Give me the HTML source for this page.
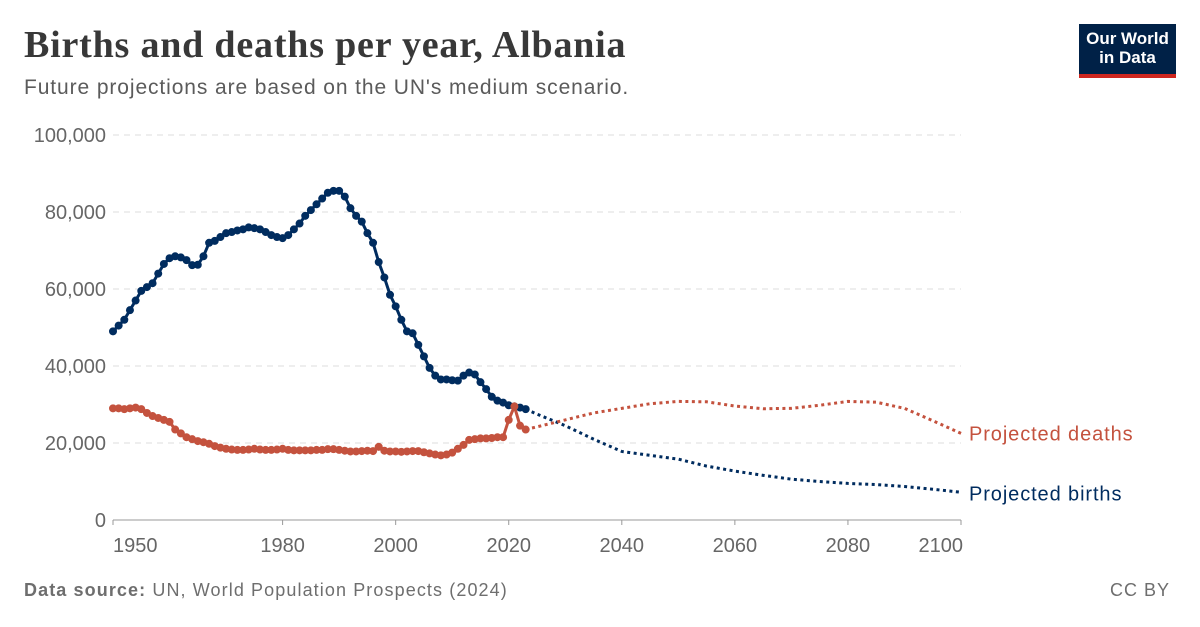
<!DOCTYPE html>
<html><head><meta charset="utf-8"><style>
body{margin:0;background:#fff;font-family:"Liberation Sans",sans-serif}
#w{position:relative;width:1200px;height:627px;overflow:hidden}
.t{position:absolute;white-space:nowrap}
</style></head><body><div id="w">
<div class="t" style="left:24px;top:23px;font-family:'Liberation Serif',serif;font-weight:bold;font-size:38px;letter-spacing:0.8px;color:#383838">Births and deaths per year, Albania</div>
<div class="t" style="left:24px;top:76px;font-size:21px;letter-spacing:0.9px;color:#5b5b5b">Future projections are based on the UN's medium scenario.</div>
<div style="position:absolute;left:1079px;top:24px;width:97px;height:54px;background:#002147;border-bottom:4px solid #ce261e;box-sizing:border-box;color:#fff;font-size:17px;font-weight:bold;line-height:19px;text-align:center;padding-top:5px">Our World<br>in Data</div>
<svg id="c" width="1200" height="627" style="position:absolute;left:0;top:0"></svg>
<div class="t" style="left:24px;top:580px;font-size:18px;letter-spacing:1.1px;color:#6e6e6e"><b>Data source:</b> UN, World Population Prospects (2024)</div>
<div class="t" style="right:30px;top:580px;font-size:18px;letter-spacing:1px;color:#6e6e6e">CC BY</div>
</div>
<script>
const histYears=[1950,1951,1952,1953,1954,1955,1956,1957,1958,1959,1960,1961,1962,1963,1964,1965,1966,1967,1968,1969,1970,1971,1972,1973,1974,1975,1976,1977,1978,1979,1980,1981,1982,1983,1984,1985,1986,1987,1988,1989,1990,1991,1992,1993,1994,1995,1996,1997,1998,1999,2000,2001,2002,2003,2004,2005,2006,2007,2008,2009,2010,2011,2012,2013,2014,2015,2016,2017,2018,2019,2020,2021,2022,2023];
const births=[49,50.5,52,54.5,57,59.5,60.5,61.5,64,66.5,
68,68.5,68.2,67.5,66.2,66.3,68.5,72,72.5,73.5,
74.5,74.8,75.2,75.5,76,75.8,75.5,74.8,74,73.5,
73.2,74,75.5,77,79,80.5,82,83.5,85,85.5,
85.5,84,81,79,77.5,74.5,72,67,63,58.5,
55.5,52,49,48.5,45.5,42.5,39.5,37.5,36.5,36.5,
36.3,36.2,37.5,38.3,37.8,35.8,34,32,31,30.5,
29.8,29.5,29.2,28.8];
const deaths=[29,29,28.8,29,29.2,28.8,27.8,27,26.5,26,
25.5,23.5,22.5,21.5,21,20.5,20.2,19.8,19.2,18.8,
18.5,18.3,18.2,18.2,18.3,18.5,18.3,18.2,18.2,18.3,
18.5,18.2,18.1,18.1,18.1,18.1,18.2,18.2,18.4,18.4,
18.2,18,17.8,17.8,17.9,18,17.9,19,18,17.8,
17.8,17.7,17.8,17.9,17.9,17.6,17.3,17,16.8,17,
17.5,18.5,19.5,20.8,21,21.2,21.2,21.3,21.5,21.5,
26,29.5,24.5,23.5];
const projYears=[2023,2025,2030,2035,2040,2045,2050,2055,2060,2065,2070,2075,2080,2085,2090,2095,2100];
const projBirths=[28.8,27.5,24.5,21,17.8,16.8,15.8,14,12.7,11.6,10.6,10,9.5,9.2,8.7,8,7.2];
const projDeaths=[23.5,24.2,26,27.8,29,30.2,30.8,30.7,29.6,28.9,29,29.8,30.8,30.6,29,25.8,22.5];
const yTicks=[0,20000,40000,60000,80000,100000];
const yTickLabels=["0","20,000","40,000","60,000","80,000","100,000"];
const xTicks=[1950,1980,2000,2020,2040,2060,2080,2100];
const svg=document.getElementById('c');const NS='http://www.w3.org/2000/svg';
const x=y=>113+(y-1950)*(961-113)/150;
const yv=v=>520-v*385/100000;
function mk(t,a){const e=document.createElementNS(NS,t);for(const k in a)e.setAttribute(k,a[k]);svg.appendChild(e);return e;}
yTicks.forEach((v,i)=>{
 if(v>0){const l=mk('line',{x1:113,x2:961,y1:yv(v),y2:yv(v),stroke:'#ddd','stroke-dasharray':'6,5'});
 
 }
 const t=mk('text',{x:106,y:yv(v)+7,'text-anchor':'end','font-size':20,fill:'#666','font-family':'Liberation Sans'});t.textContent=yTickLabels[i];
 
 
});
const ax=mk('line',{x1:113,x2:961,y1:520,y2:520,stroke:'#999'});


xTicks.forEach((yr,i)=>{
 const tk=mk('line',{x1:x(yr),x2:x(yr),y1:520,y2:525,stroke:'#999'});
 
 
 const t=mk('text',{x:i==0?x(yr):(i==xTicks.length-1?x(yr)+2:x(yr)),y:552,'text-anchor':i==0?'start':(i==xTicks.length-1?'end':'middle'),'font-size':20,fill:'#666','font-family':'Liberation Sans'});t.textContent=yr;
 
 
});
function series(ys,vals,col,name,dotted){
 const p=mk('path',{d:ys.map((yr,i)=>(i?'L':'M')+x(yr)+','+yv(vals[i]*1000)).join(''),fill:'none',stroke:col,'stroke-width':3,'stroke-dasharray':dotted?'3,3.5':'none'});
 
 
 if(!dotted)ys.forEach((yr,i)=>{const c=mk('circle',{cx:x(yr),cy:yv(vals[i]*1000),r:4,fill:col});
  
  });
}
series(histYears,births,'#002c5f','births',false);
series(histYears,deaths,'#c4523e','deaths',false);
series(projYears,projBirths,'#002c5f','projected-births',true);
series(projYears,projDeaths,'#c4523e','projected-deaths',true);
const l1=mk('text',{x:969,y:yv(projDeaths[projDeaths.length-1]*1000)+7,'font-size':20,'letter-spacing':0.9,fill:'#c4523e','font-family':'Liberation Sans'});l1.textContent='Projected deaths';


const l2=mk('text',{x:969,y:yv(projBirths[projBirths.length-1]*1000)+8,'font-size':20,'letter-spacing':0.9,fill:'#002c5f','font-family':'Liberation Sans'});l2.textContent='Projected births';


</script></body></html>
